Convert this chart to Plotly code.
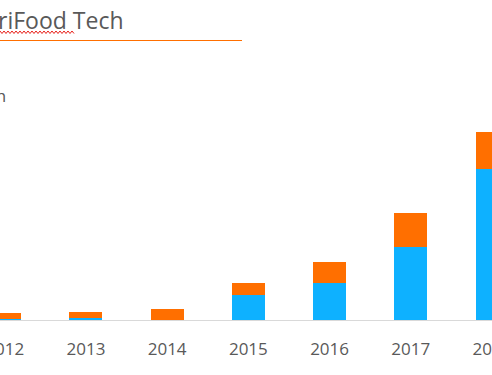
import plotly.graph_objects as go

years = [2012, 2013, 2014, 2015, 2016, 2017, 2018]
year_labels = [str(y) for y in years]
blue_values = [0.1, 0.23, 0.0, 2.53, 3.7, 7.3, 15.13]
orange_values = [0.6, 0.57, 1.1, 1.17, 2.1, 3.4, 3.67]

BLUE = "#0EB1FF"
ORANGE = "#FF6F00"
GRAY_TEXT = "#595959"
FONT = "Open Sans"

W, H = 492, 375
PLOT_TOP, PLOT_BOTTOM = 120, 320


def py(y_px):
    return (PLOT_BOTTOM - y_px) / (PLOT_BOTTOM - PLOT_TOP)


def px(x_px):
    return x_px / W


fig = go.Figure()
fig.add_trace(go.Bar(x=years, y=blue_values, marker=dict(color=BLUE, line=dict(width=0)), name="A"))
fig.add_trace(go.Bar(x=years, y=orange_values, marker=dict(color=ORANGE, line=dict(width=0)), name="B"))

# red spell-check squiggle under the title
pts = []
x = 0.0
up = True
while x <= 75:
    pts.append((px(x), py(31.0 if up else 33.5)))
    up = not up
    x += 2.0
path = "M " + " L ".join(f"{a:.5f},{b:.5f}" for a, b in pts)

fig.update_layout(
    width=W, height=H,
    margin=dict(l=0, r=0, t=PLOT_TOP, b=H - PLOT_BOTTOM, autoexpand=False),
    paper_bgcolor="white", plot_bgcolor="white",
    barmode="stack", bargap=0.595,
    showlegend=False,
    font=dict(family=FONT, color=GRAY_TEXT),
    xaxis=dict(
        range=[2011.942, 2018.0],
        tickmode="array", tickvals=years, ticktext=year_labels,
        tickfont=dict(size=17, color=GRAY_TEXT, family=FONT),
        ticklabeloverflow="allow", automargin=False,
        showgrid=False, zeroline=False,
        showline=True, linecolor="#D9D9D9", linewidth=1,
        ticks="outside", ticklen=14, tickcolor="rgba(0,0,0,0)",
    ),
    yaxis=dict(range=[0, 20], visible=False),
    shapes=[
        dict(type="line", xref="paper", yref="paper", x0=0, x1=px(242), y0=py(40.5), y1=py(40.5),
             line=dict(color=ORANGE, width=1.2)),
        dict(type="path", xref="paper", yref="paper", path=path,
             line=dict(color="#E8201A", width=1)),
    ],
    annotations=[
        dict(text="AgriFood Tech", xref="paper", yref="paper", x=px(126), y=py(20),
             xanchor="right", yanchor="middle", showarrow=False,
             font=dict(size=23, color=GRAY_TEXT, family=FONT)),
        dict(text="Growth", xref="paper", yref="paper", x=px(8), y=py(96),
             xanchor="right", yanchor="middle", showarrow=False,
             font=dict(size=17, color=GRAY_TEXT, family=FONT)),
    ],
)

fig.write_html("out.html", config={"displayModeBar": False},
               post_script="document.body.style.margin='0';document.body.style.overflow='hidden';")
